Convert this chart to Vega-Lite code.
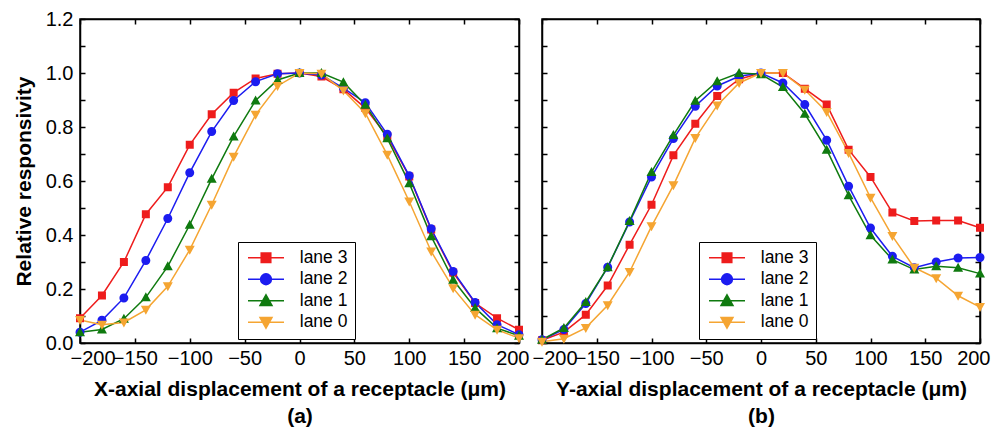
{
  "$schema": "https://vega.github.io/schema/vega-lite/v6.json",
  "padding": {"left": 12, "top": 8, "right": 0, "bottom": 0},
  "background": "white",
  "spacing": 23,
  "bounds": "flush",
  "datasets": {
    "a": [
      {"lane": "lane 3", "x": -200, "y": 0.092}, {"lane": "lane 3", "x": -180, "y": 0.176}, {"lane": "lane 3", "x": -160, "y": 0.30}, {"lane": "lane 3", "x": -140, "y": 0.477}, {"lane": "lane 3", "x": -120, "y": 0.577}, {"lane": "lane 3", "x": -100, "y": 0.734}, {"lane": "lane 3", "x": -80, "y": 0.847}, {"lane": "lane 3", "x": -60, "y": 0.927}, {"lane": "lane 3", "x": -40, "y": 0.98}, {"lane": "lane 3", "x": -20, "y": 0.997}, {"lane": "lane 3", "x": 0, "y": 1.0}, {"lane": "lane 3", "x": 20, "y": 0.987}, {"lane": "lane 3", "x": 40, "y": 0.94}, {"lane": "lane 3", "x": 60, "y": 0.87}, {"lane": "lane 3", "x": 80, "y": 0.765}, {"lane": "lane 3", "x": 100, "y": 0.617}, {"lane": "lane 3", "x": 120, "y": 0.42}, {"lane": "lane 3", "x": 140, "y": 0.261}, {"lane": "lane 3", "x": 160, "y": 0.148}, {"lane": "lane 3", "x": 180, "y": 0.092}, {"lane": "lane 3", "x": 200, "y": 0.049},
      {"lane": "lane 2", "x": -200, "y": 0.04}, {"lane": "lane 2", "x": -180, "y": 0.084}, {"lane": "lane 2", "x": -160, "y": 0.167}, {"lane": "lane 2", "x": -140, "y": 0.306}, {"lane": "lane 2", "x": -120, "y": 0.461}, {"lane": "lane 2", "x": -100, "y": 0.631}, {"lane": "lane 2", "x": -80, "y": 0.783}, {"lane": "lane 2", "x": -60, "y": 0.898}, {"lane": "lane 2", "x": -40, "y": 0.968}, {"lane": "lane 2", "x": -20, "y": 0.997}, {"lane": "lane 2", "x": 0, "y": 1.0}, {"lane": "lane 2", "x": 20, "y": 0.993}, {"lane": "lane 2", "x": 40, "y": 0.944}, {"lane": "lane 2", "x": 60, "y": 0.89}, {"lane": "lane 2", "x": 80, "y": 0.773}, {"lane": "lane 2", "x": 100, "y": 0.619}, {"lane": "lane 2", "x": 120, "y": 0.423}, {"lane": "lane 2", "x": 140, "y": 0.265}, {"lane": "lane 2", "x": 160, "y": 0.15}, {"lane": "lane 2", "x": 180, "y": 0.068}, {"lane": "lane 2", "x": 200, "y": 0.031},
      {"lane": "lane 1", "x": -200, "y": 0.04}, {"lane": "lane 1", "x": -180, "y": 0.05}, {"lane": "lane 1", "x": -160, "y": 0.09}, {"lane": "lane 1", "x": -140, "y": 0.169}, {"lane": "lane 1", "x": -120, "y": 0.284}, {"lane": "lane 1", "x": -100, "y": 0.438}, {"lane": "lane 1", "x": -80, "y": 0.608}, {"lane": "lane 1", "x": -60, "y": 0.765}, {"lane": "lane 1", "x": -40, "y": 0.898}, {"lane": "lane 1", "x": -20, "y": 0.974}, {"lane": "lane 1", "x": 0, "y": 1.0}, {"lane": "lane 1", "x": 20, "y": 1.0}, {"lane": "lane 1", "x": 40, "y": 0.966}, {"lane": "lane 1", "x": 60, "y": 0.882}, {"lane": "lane 1", "x": 80, "y": 0.758}, {"lane": "lane 1", "x": 100, "y": 0.592}, {"lane": "lane 1", "x": 120, "y": 0.395}, {"lane": "lane 1", "x": 140, "y": 0.234}, {"lane": "lane 1", "x": 160, "y": 0.13}, {"lane": "lane 1", "x": 180, "y": 0.055}, {"lane": "lane 1", "x": 200, "y": 0.027},
      {"lane": "lane 0", "x": -200, "y": 0.085}, {"lane": "lane 0", "x": -180, "y": 0.068}, {"lane": "lane 0", "x": -160, "y": 0.076}, {"lane": "lane 0", "x": -140, "y": 0.123}, {"lane": "lane 0", "x": -120, "y": 0.21}, {"lane": "lane 0", "x": -100, "y": 0.345}, {"lane": "lane 0", "x": -80, "y": 0.512}, {"lane": "lane 0", "x": -60, "y": 0.69}, {"lane": "lane 0", "x": -40, "y": 0.845}, {"lane": "lane 0", "x": -20, "y": 0.952}, {"lane": "lane 0", "x": 0, "y": 1.0}, {"lane": "lane 0", "x": 20, "y": 0.997}, {"lane": "lane 0", "x": 40, "y": 0.935}, {"lane": "lane 0", "x": 60, "y": 0.851}, {"lane": "lane 0", "x": 80, "y": 0.697}, {"lane": "lane 0", "x": 100, "y": 0.524}, {"lane": "lane 0", "x": 120, "y": 0.339}, {"lane": "lane 0", "x": 140, "y": 0.203}, {"lane": "lane 0", "x": 160, "y": 0.105}, {"lane": "lane 0", "x": 180, "y": 0.049}, {"lane": "lane 0", "x": 200, "y": 0.018}
    ],
    "b": [
      {"lane": "lane 3", "x": -200, "y": 0.01}, {"lane": "lane 3", "x": -180, "y": 0.04}, {"lane": "lane 3", "x": -160, "y": 0.105}, {"lane": "lane 3", "x": -140, "y": 0.213}, {"lane": "lane 3", "x": -120, "y": 0.364}, {"lane": "lane 3", "x": -100, "y": 0.512}, {"lane": "lane 3", "x": -80, "y": 0.695}, {"lane": "lane 3", "x": -60, "y": 0.812}, {"lane": "lane 3", "x": -40, "y": 0.915}, {"lane": "lane 3", "x": -20, "y": 0.977}, {"lane": "lane 3", "x": 0, "y": 1.0}, {"lane": "lane 3", "x": 20, "y": 1.0}, {"lane": "lane 3", "x": 40, "y": 0.942}, {"lane": "lane 3", "x": 60, "y": 0.883}, {"lane": "lane 3", "x": 80, "y": 0.716}, {"lane": "lane 3", "x": 100, "y": 0.615}, {"lane": "lane 3", "x": 120, "y": 0.483}, {"lane": "lane 3", "x": 140, "y": 0.452}, {"lane": "lane 3", "x": 160, "y": 0.454}, {"lane": "lane 3", "x": 180, "y": 0.454}, {"lane": "lane 3", "x": 200, "y": 0.427},
      {"lane": "lane 2", "x": -200, "y": 0.012}, {"lane": "lane 2", "x": -180, "y": 0.05}, {"lane": "lane 2", "x": -160, "y": 0.146}, {"lane": "lane 2", "x": -140, "y": 0.281}, {"lane": "lane 2", "x": -120, "y": 0.448}, {"lane": "lane 2", "x": -100, "y": 0.615}, {"lane": "lane 2", "x": -80, "y": 0.757}, {"lane": "lane 2", "x": -60, "y": 0.877}, {"lane": "lane 2", "x": -40, "y": 0.952}, {"lane": "lane 2", "x": -20, "y": 0.988}, {"lane": "lane 2", "x": 0, "y": 1.0}, {"lane": "lane 2", "x": 20, "y": 0.963}, {"lane": "lane 2", "x": 40, "y": 0.883}, {"lane": "lane 2", "x": 60, "y": 0.751}, {"lane": "lane 2", "x": 80, "y": 0.581}, {"lane": "lane 2", "x": 100, "y": 0.426}, {"lane": "lane 2", "x": 120, "y": 0.321}, {"lane": "lane 2", "x": 140, "y": 0.279}, {"lane": "lane 2", "x": 160, "y": 0.30}, {"lane": "lane 2", "x": 180, "y": 0.315}, {"lane": "lane 2", "x": 200, "y": 0.317},
      {"lane": "lane 1", "x": -200, "y": 0.012}, {"lane": "lane 1", "x": -180, "y": 0.056}, {"lane": "lane 1", "x": -160, "y": 0.152}, {"lane": "lane 1", "x": -140, "y": 0.281}, {"lane": "lane 1", "x": -120, "y": 0.452}, {"lane": "lane 1", "x": -100, "y": 0.633}, {"lane": "lane 1", "x": -80, "y": 0.77}, {"lane": "lane 1", "x": -60, "y": 0.897}, {"lane": "lane 1", "x": -40, "y": 0.969}, {"lane": "lane 1", "x": -20, "y": 1.0}, {"lane": "lane 1", "x": 0, "y": 0.995}, {"lane": "lane 1", "x": 20, "y": 0.948}, {"lane": "lane 1", "x": 40, "y": 0.849}, {"lane": "lane 1", "x": 60, "y": 0.716}, {"lane": "lane 1", "x": 80, "y": 0.547}, {"lane": "lane 1", "x": 100, "y": 0.399}, {"lane": "lane 1", "x": 120, "y": 0.309}, {"lane": "lane 1", "x": 140, "y": 0.272}, {"lane": "lane 1", "x": 160, "y": 0.284}, {"lane": "lane 1", "x": 180, "y": 0.279}, {"lane": "lane 1", "x": 200, "y": 0.257},
      {"lane": "lane 0", "x": -200, "y": 0.005}, {"lane": "lane 0", "x": -180, "y": 0.016}, {"lane": "lane 0", "x": -160, "y": 0.056}, {"lane": "lane 0", "x": -140, "y": 0.14}, {"lane": "lane 0", "x": -120, "y": 0.263}, {"lane": "lane 0", "x": -100, "y": 0.432}, {"lane": "lane 0", "x": -80, "y": 0.584}, {"lane": "lane 0", "x": -60, "y": 0.759}, {"lane": "lane 0", "x": -40, "y": 0.88}, {"lane": "lane 0", "x": -20, "y": 0.963}, {"lane": "lane 0", "x": 0, "y": 1.0}, {"lane": "lane 0", "x": 20, "y": 1.0}, {"lane": "lane 0", "x": 40, "y": 0.938}, {"lane": "lane 0", "x": 60, "y": 0.856}, {"lane": "lane 0", "x": 80, "y": 0.704}, {"lane": "lane 0", "x": 100, "y": 0.538}, {"lane": "lane 0", "x": 120, "y": 0.396}, {"lane": "lane 0", "x": 140, "y": 0.279}, {"lane": "lane 0", "x": 160, "y": 0.24}, {"lane": "lane 0", "x": 180, "y": 0.175}, {"lane": "lane 0", "x": 200, "y": 0.133}
    ]
  },
  "resolve": {"legend": {"color": "independent", "shape": "independent"}},
  "hconcat": [
    {
      "width": 439,
      "height": 324,
      "data": {"name": "a"},
      "resolve": {"axis": {"x": "independent", "y": "independent"}},
      "layer": [
        {
          "mark": {"type": "line", "strokeWidth": 1.5},
          "encoding": {
            "x": {"field": "x", "type": "quantitative", "scale": {"domain": [-200, 200], "nice": false},
              "axis": {"orient": "bottom", "values": [-200, -150, -100, -50, 0, 50, 100, 150, 200],
                "labelFlush": true, "labelFlushOffset": 10, "labelOverlap": false,
                "title": ["X-axial displacement of a receptacle (μm)", "(a)"]}},
            "y": {"field": "y", "type": "quantitative", "scale": {"domain": [0, 1.2], "nice": false},
              "axis": {"orient": "left", "values": [0, 0.1, 0.2, 0.3, 0.4, 0.5, 0.6, 0.7, 0.8, 0.9, 1.0, 1.1, 1.2],
                "labelExpr": "(round(datum.value*10) % 2 == 0) ? format(datum.value, '.1f') : ''",
                "labelOverlap": false,
                "title": "Relative responsivity"}},
            "color": {"field": "lane", "type": "nominal",
              "scale": {"domain": ["lane 3", "lane 2", "lane 1", "lane 0"], "range": ["#ee1c1c", "#1c1cf0", "#0f7a0f", "#f5a532"]},
              "legend": {"orient": "none", "legendX": 158, "legendY": 223, "title": null,
                "labelExpr": "datum.label + ' '", "symbolOffset": 12.25, "symbolSize": 144, "symbolStrokeWidth": 1.5,
                "labelOffset": 25,
                "encode": {"symbols": {"update": {
                  "strokeWidth": {"value": 1.5},
                  "size": {"value": 144},
                  "opacity": {"value": 1}
                }}}}}
          }
        },
        {
          "mark": {"type": "point", "filled": true, "opacity": 1, "size": 100},
          "encoding": {
            "x": {"field": "x", "type": "quantitative", "axis": null},
            "y": {"field": "y", "type": "quantitative", "axis": null},
            "color": {"field": "lane", "type": "nominal"},
            "shape": {"field": "lane", "type": "nominal",
              "scale": {"domain": ["lane 3", "lane 2", "lane 1", "lane 0"],
                "range": ["M-3,0H3M-0.8,-0.8H0.8V0.8H-0.8Z", "M-3,0H3M-0.9,0A0.9,0.9,0,1,1,0.9,0A0.9,0.9,0,1,1,-0.9,0Z", "M-3,0H3M0,-1L1,0.8H-1Z", "M-3,0H3M0,1L1,-0.8H-1Z"]}}
          }
        },
        {
          "mark": {"type": "point", "opacity": 0},
          "encoding": {
            "x": {"field": "x", "type": "quantitative",
              "axis": {"orient": "top", "labels": false, "title": null, "values": [-200, -150, -100, -50, 0, 50, 100, 150, 200]}},
            "y": {"field": "y", "type": "quantitative",
              "axis": {"orient": "right", "labels": false, "title": null, "values": [0, 0.1, 0.2, 0.3, 0.4, 0.5, 0.6, 0.7, 0.8, 0.9, 1.0, 1.1, 1.2]}}
          }
        }
      ]
    },
    {
      "width": 438,
      "height": 324,
      "data": {"name": "b"},
      "resolve": {"axis": {"x": "independent", "y": "independent"}},
      "layer": [
        {
          "mark": {"type": "line", "strokeWidth": 1.5},
          "encoding": {
            "x": {"field": "x", "type": "quantitative", "scale": {"domain": [-200, 200], "nice": false},
              "axis": {"orient": "bottom", "values": [-200, -150, -100, -50, 0, 50, 100, 150, 200],
                "labelFlush": true, "labelFlushOffset": 10, "labelOverlap": false,
                "title": ["Y-axial displacement of a receptacle (μm)", "(b)"]}},
            "y": {"field": "y", "type": "quantitative", "scale": {"domain": [0, 1.2], "nice": false},
              "axis": {"orient": "left", "labels": false, "title": null, "values": [0, 0.1, 0.2, 0.3, 0.4, 0.5, 0.6, 0.7, 0.8, 0.9, 1.0, 1.1, 1.2]}},
            "color": {"field": "lane", "type": "nominal",
              "scale": {"domain": ["lane 3", "lane 2", "lane 1", "lane 0"], "range": ["#ee1c1c", "#1c1cf0", "#0f7a0f", "#f5a532"]},
              "legend": {"orient": "none", "legendX": 157, "legendY": 223, "title": null,
                "labelExpr": "datum.label + ' '", "symbolOffset": 12.25, "symbolSize": 144, "symbolStrokeWidth": 1.5,
                "labelOffset": 25,
                "encode": {"symbols": {"update": {
                  "strokeWidth": {"value": 1.5},
                  "size": {"value": 144},
                  "opacity": {"value": 1}
                }}}}}
          }
        },
        {
          "mark": {"type": "point", "filled": true, "opacity": 1, "size": 100},
          "encoding": {
            "x": {"field": "x", "type": "quantitative", "axis": null},
            "y": {"field": "y", "type": "quantitative", "axis": null},
            "color": {"field": "lane", "type": "nominal"},
            "shape": {"field": "lane", "type": "nominal",
              "scale": {"domain": ["lane 3", "lane 2", "lane 1", "lane 0"],
                "range": ["M-3,0H3M-0.8,-0.8H0.8V0.8H-0.8Z", "M-3,0H3M-0.9,0A0.9,0.9,0,1,1,0.9,0A0.9,0.9,0,1,1,-0.9,0Z", "M-3,0H3M0,-1L1,0.8H-1Z", "M-3,0H3M0,1L1,-0.8H-1Z"]}}
          }
        },
        {
          "mark": {"type": "point", "opacity": 0},
          "encoding": {
            "x": {"field": "x", "type": "quantitative",
              "axis": {"orient": "top", "labels": false, "title": null, "values": [-200, -150, -100, -50, 0, 50, 100, 150, 200]}},
            "y": {"field": "y", "type": "quantitative",
              "axis": {"orient": "right", "labels": false, "title": null, "values": [0, 0.1, 0.2, 0.3, 0.4, 0.5, 0.6, 0.7, 0.8, 0.9, 1.0, 1.1, 1.2]}}
          }
        }
      ]
    }
  ],
  "config": {
    "font": "Liberation Sans",
    "view": {"stroke": "black", "strokeWidth": 1.5},
    "axis": {
      "grid": false,
      "domainColor": "black", "domainWidth": 1.5,
      "tickColor": "black", "tickWidth": 1.5, "tickSize": -5,
      "labelFont": "Liberation Sans", "labelFontSize": 20, "labelColor": "black",
      "titleFont": "Liberation Sans", "titleFontSize": 21, "titleFontWeight": "bold", "titleColor": "black",
      "titleLineHeight": 27
    },
    "axisX": {"labelPadding": 10, "titlePadding": 10},
    "axisY": {"labelPadding": 12, "titlePadding": 11},
    "legend": {
      "labelFont": "Liberation Sans", "labelFontSize": 17.5, "labelColor": "black",
      "padding": 7, "rowPadding": 2.5, "symbolSize": 144,
      "strokeColor": "black", "fillColor": "white", "symbolStrokeWidth": 1.5
    }
  }
}
